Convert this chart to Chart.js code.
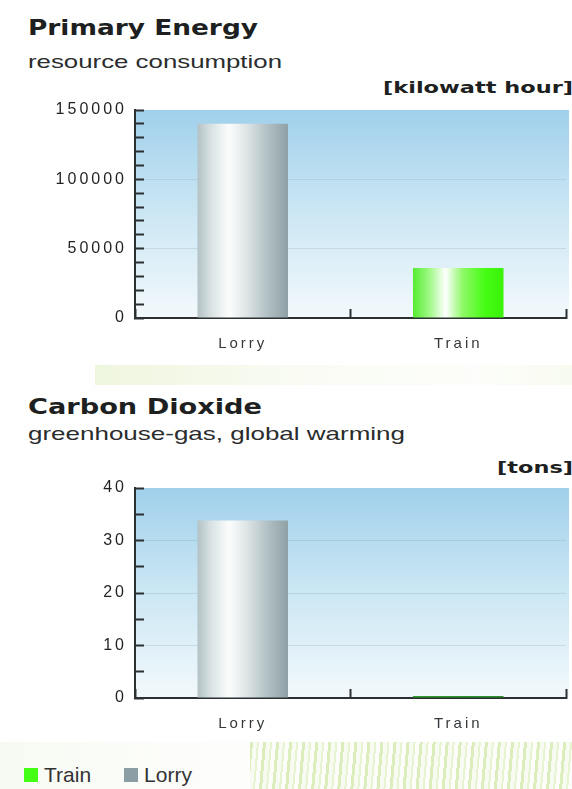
<!DOCTYPE html>
<html>
<head>
<meta charset="utf-8">
<script src="https://cdn.jsdelivr.net/npm/chart.js@4.4.1/dist/chart.umd.min.js"></script>
<style>
  body { margin: 0; width: 572px; height: 789px; overflow: hidden; background: #fff; position: relative; font-family: "DejaVu Sans", sans-serif; }
  .txt { position: absolute; white-space: nowrap; transform-origin: 0 50%; color: #1d1f20; line-height: 1; }
  .title { font-weight: bold; font-size: 22px; }
  .sub { font-family: "Liberation Sans", Arial, sans-serif; font-size: 19px; color: #2a2c2d; }
  .unit { font-weight: bold; font-size: 15px; }
  .deco1 { position: absolute; left: 95px; top: 365px; width: 477px; height: 20px;
    background: linear-gradient(90deg, rgba(232,242,208,0.7), rgba(242,247,230,0.5) 40%, rgba(248,251,243,0.4) 80%, rgba(240,246,224,0.5)); }
  .deco2 { position: absolute; left: 250px; top: 742px; width: 322px; height: 47px;
    background: repeating-linear-gradient(95deg, rgba(205,230,160,0.7) 0 3px, rgba(242,248,232,0.6) 3px 7px, rgba(218,238,184,0.65) 7px 9px, rgba(250,252,245,0.5) 9px 13px); }
  .deco3 { position: absolute; left: 0; top: 742px; width: 250px; height: 47px;
    background: linear-gradient(90deg, rgba(242,247,234,0.6), rgba(250,252,247,0.3)); }
  canvas { position: absolute; left: 0; }
  .legend { position: absolute; top: 763px; left: 24px; font-family: "Liberation Sans Narrow", "Liberation Sans", sans-serif; font-size: 21px; color: #333; display: flex; align-items: center; }
  .legend span.box { display: inline-block; width: 14px; height: 14px; margin-right: 6px; }
</style>
</head>
<body>
<div class="deco1"></div>
<div class="deco3"></div>
<div class="deco2"></div>

<div class="txt title" style="left:28px;top:17px" data-w="230">Primary Energy</div>
<div class="txt sub" style="left:28px;top:52px" data-w="254">resource consumption</div>
<div class="txt unit" style="left:383px;top:81px" data-w="190">[kilowatt hour]</div>
<canvas id="energyChart" style="top:80px" width="572" height="290"></canvas>

<div class="txt title" style="left:28px;top:396px" data-w="234">Carbon Dioxide</div>
<div class="txt sub" style="left:28px;top:424px" data-w="377">greenhouse-gas, global warming</div>
<div class="txt unit" style="left:497px;top:461px" data-w="76">[tons]</div>
<canvas id="co2Chart" style="top:460px" width="572" height="280"></canvas>

<div class="legend" id="legend"></div>

<script>
const categories = ['Lorry', 'Train'];
const energyLorry = [140000, null];
const energyTrain = [null, 36000];
const co2Lorry = [33.8, null];
const co2Train = [null, 0.4];
const energyTicks = [0, 50000, 100000, 150000];
const co2Ticks = [0, 10, 20, 30, 40];
const legendNames = ['Train', 'Lorry'];
const legendColors = ['#44ff14', '#8c9ea5'];

const BAR_FRAC = 0.42;
const AXIS = '#2b3033';

// cylinder-ish horizontal gradient for each bar, positioned from the x scale
function barFill(stops) {
    return function (ctx) {
        const chart = ctx.chart;
        const x = chart.scales.x;
        if (!x || !chart.chartArea) return stops[0][1];
        const center = x.getPixelForValue(ctx.dataIndex);
        const half = (x.width / categories.length) * BAR_FRAC / 2;
        const g = chart.ctx.createLinearGradient(center - half, 0, center + half, 0);
        stops.forEach(([p, c]) => g.addColorStop(p, c));
        return g;
    };
}

const lorryStops = [[0, '#b3c2c6'], [0.15, '#d9e2e3'], [0.35, '#fbfdfc'], [0.55, '#dce4e5'], [0.8, '#adbcc0'], [1, '#8fa1a6']];
const trainStops = [[0, '#55ec30'], [0.18, '#9ef884'], [0.36, '#ffffff'], [0.55, '#8df866'], [0.8, '#45fd12'], [1, '#3af20a']];
const trainDarkStops = [[0, '#2f9d2f'], [1, '#2a8f2a']];

const plotBg = {
    id: 'plotBg',
    beforeDraw(chart) {
        const { ctx, chartArea: a } = chart;
        ctx.letterSpacing = '3px';
        const g = ctx.createLinearGradient(0, a.top, 0, a.bottom);
        g.addColorStop(0, '#a0d0eb');
        g.addColorStop(0.45, '#c8e5f3');
        g.addColorStop(1, '#f3f9fc');
        ctx.save();
        ctx.fillStyle = g;
        ctx.fillRect(a.left, a.top, a.right - a.left + 3, a.bottom - a.top);
        ctx.restore();
    }
};

function makeChart(id, lorry, train, ticks, minorStep, trainFill, padTop, padBottom) {
    const major = ticks[1];
    const max = ticks[ticks.length - 1];
    return new Chart(document.getElementById(id), {
        type: 'bar',
        data: {
            labels: categories,
            datasets: [
                { label: 'Lorry', data: lorry, backgroundColor: barFill(lorryStops), borderWidth: 0 },
                { label: 'Train', data: train, backgroundColor: barFill(trainFill), borderWidth: 0 }
            ]
        },
        options: {
            responsive: false,
            animation: false,
            events: [],
            skipNull: true,
            barPercentage: BAR_FRAC,
            categoryPercentage: 1,
            layout: { padding: { top: padTop, bottom: padBottom, left: 0, right: 6 } },
            plugins: { legend: { display: false }, tooltip: { enabled: false } },
            scales: {
                x: {
                    border: { color: AXIS, width: 2 },
                    grid: { drawOnChartArea: false, tickColor: AXIS, tickLength: -9, tickWidth: 2, offset: true },
                    ticks: { padding: 26, color: '#36393b', font: { family: 'Liberation Sans', size: 15 } },
                    afterFit: s => { s.height = 36; }
                },
                y: {
                    min: 0,
                    max: max,
                    border: { color: AXIS, width: 2 },
                    grid: {
                        color: c => (c.tick && c.tick.value > 0 && c.tick.value < max && c.tick.value % major === 0) ? 'rgba(120,150,165,0.22)' : 'rgba(0,0,0,0)',
                        tickColor: AXIS, tickLength: -9, tickWidth: 2
                    },
                    ticks: {
                        stepSize: minorStep,
                        autoSkip: false,
                        padding: 17,
                        color: '#1f2122',
                        font: { family: 'Liberation Sans', size: 16 },
                        callback: v => (v % major === 0 ? v : '')
                    },
                    afterFit: s => { s.width = 135; }
                }
            }
        },
        plugins: [plotBg]
    });
}

makeChart('energyChart', energyLorry, energyTrain, energyTicks, 10000, trainStops, 30, 16);
makeChart('co2Chart', co2Lorry, co2Train, co2Ticks, 5, trainDarkStops, 28, 6);

// legend
const legend = document.getElementById('legend');
legendNames.forEach((name, i) => {
    const item = document.createElement('div');
    item.style.display = 'flex';
    item.style.alignItems = 'center';
    item.style.marginRight = i === 0 ? '33px' : '0';
    item.innerHTML = `<span class="box" style="background:${legendColors[i]}"></span><span>${name}</span>`;
    legend.appendChild(item);
});

// stretch the texts to the widths in the picture
document.querySelectorAll('[data-w]').forEach(el => {
    const w = el.getBoundingClientRect().width;
    el.style.transform = `scaleX(${el.dataset.w / w})`;
});
</script>
</body>
</html>
